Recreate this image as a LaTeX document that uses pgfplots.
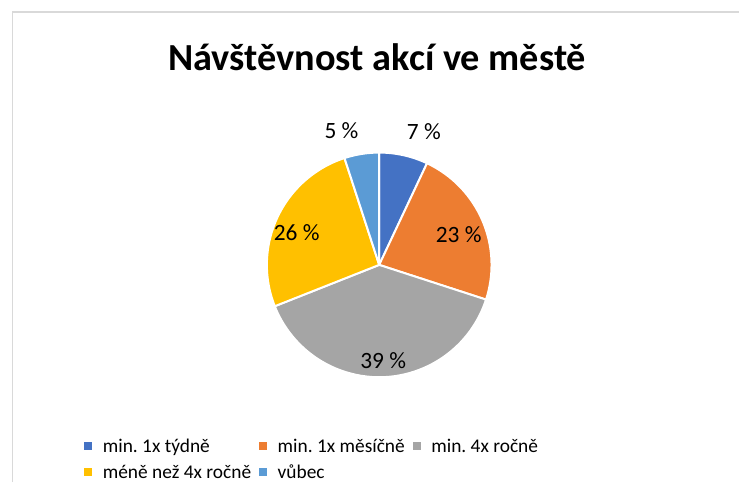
\documentclass[border=0pt]{standalone}
\usepackage{fontspec}
\setmainfont{Carlito}
\usepackage{pgfplots}
\usepackage{pgfplotstable}
\pgfplotsset{compat=1.18}

\definecolor{c0}{HTML}{4472C4}
\definecolor{c1}{HTML}{ED7D31}
\definecolor{c2}{HTML}{A5A5A5}
\definecolor{c3}{HTML}{FFC000}
\definecolor{c4}{HTML}{5B9BD5}
\definecolor{frame}{HTML}{D9D9D9}

% share in percent, label position in pie radii
\pgfplotstableread{
value lx    ly
7     0.398  1.190
23    0.708  0.270
39    0.035 -0.854
26   -0.735  0.288
5    -0.336  1.199
}\piedata

\begin{document}
\frenchspacing
\def\cumsum{0}
\pgfplotsforeachungrouped \i in {0,...,4}{%
  \pgfplotstablegetelem{\i}{value}\of\piedata
  \expandafter\xdef\csname v\i\endcsname{\pgfplotsretval}%
  \pgfmathsetmacro\startang{90-3.6*\cumsum}%
  \pgfmathsetmacro\cumsum{\cumsum+\pgfplotsretval}%
  \pgfmathsetmacro\endang{90-3.6*\cumsum}%
  \expandafter\xdef\csname sa\i\endcsname{\startang}%
  \expandafter\xdef\csname ea\i\endcsname{\endang}%
  \pgfplotstablegetelem{\i}{lx}\of\piedata
  \expandafter\xdef\csname lx\i\endcsname{\pgfplotsretval}%
  \pgfplotstablegetelem{\i}{ly}\of\piedata
  \expandafter\xdef\csname ly\i\endcsname{\pgfplotsretval}%
}
\begin{tikzpicture}[x=1pt,y=1pt]
\path[use as bounding box, fill=white] (0,0) rectangle (739,485);
\begin{axis}[
    at={(377pt,218.5pt)}, anchor=center,
    scale only axis, width=226pt, height=226pt,
    xmin=-1, xmax=1, ymin=-1, ymax=1,
    hide axis, clip=false,
    legend columns=3,
    legend cell align=left,
    legend image code/.code={\fill[#1] (0pt,-1.5pt) rectangle (7pt,5.5pt);
      \path[draw=none, fill=none] (0pt,0pt) -- (18.5pt,0pt);},
    legend style={at={(-0.814,-0.276)}, anchor=north west, draw=none, fill=none,
      inner sep=0pt, font=\fontsize{19.5}{23}\selectfont, row sep=9pt,
      nodes={inner sep=0pt, text height=13pt, text depth=4pt},
      /tikz/every even column/.append style={column sep=8pt}},
  ]
  \pgfplotsinvokeforeach{0,...,4}{
    \fill[c#1, draw=white, line width=2pt, line join=round]
      (axis cs:0,0) -- ++(\csname sa#1\endcsname:113pt)
      arc[start angle=\csname sa#1\endcsname, end angle=\csname ea#1\endcsname, radius=113pt]
      -- cycle;
  }
  \pgfplotsinvokeforeach{0,...,4}{
    \node[font=\fontsize{23.5}{28}\selectfont] at (axis cs:\csname lx#1\endcsname,\csname ly#1\endcsname)
      {\csname v#1\endcsname~\%};
  }
  \addlegendimage{c0}\addlegendentry{min. 1x týdně}
  \addlegendimage{c1}\addlegendentry{min. 1x měsíčně}
  \addlegendimage{c2}\addlegendentry{min. 4x ročně}
  \addlegendimage{c3}\addlegendentry{méně než 4x ročně}
  \addlegendimage{c4}\addlegendentry{vůbec}
\end{axis}
\node[anchor=base, font=\fontsize{38.5}{44}\selectfont\bfseries] at (375,414) {Návštěvnost akcí ve městě};
\draw[frame, line width=1.2pt] (8,0) -- (8,473) -- (739,473);
\end{tikzpicture}
\end{document}
